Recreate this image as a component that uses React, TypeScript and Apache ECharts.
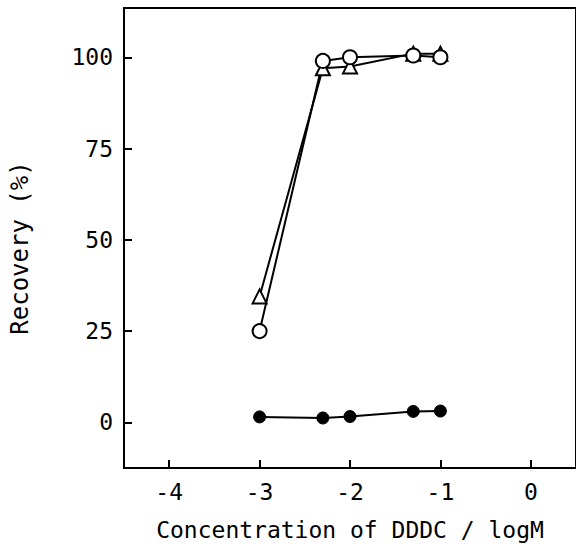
import React, { useEffect, useRef } from "react";
import * as echarts from "echarts";

const xLogConc = [-3, -2.3, -2, -1.3, -1];
const openCircle = [25, 99, 100, 100.5, 100];
const openTriangle = [34.5, 97, 97.5, 101, 101];
const filledCircle = [1.5, 1.2, 1.6, 3, 3.1];
const xTicks = [-4, -3, -2, -1, 0];
const yTicks = [0, 25, 50, 75, 100];

const font = "DejaVu Sans Mono";

export default function App() {
  const ref = useRef<HTMLDivElement>(null);
  useEffect(() => {
    if (!ref.current) return;
    const chart = echarts.init(ref.current, null, { renderer: "svg" });
    const pair = (ys: number[]) => xLogConc.map((x, i) => [x, ys[i]]);
    chart.setOption({
      animation: false,
      backgroundColor: "#ffffff",
      grid: {
        left: 124,
        right: 0,
        top: 8,
        bottom: 79,
        show: true,
        borderColor: "#000",
        borderWidth: 2,
      },
      xAxis: {
        type: "value",
        min: -4.5,
        max: 0.5,
        splitLine: { show: false },
        axisLine: { show: true, onZero: false, lineStyle: { color: "#000", width: 2 } },
        axisTick: { show: true, inside: true, length: 8, lineStyle: { color: "#000", width: 2 }, customValues: xTicks },
        axisLabel: { color: "#000", fontSize: 23, fontWeight: 500, fontFamily: font, margin: 12, customValues: xTicks },
        name: "Concentration of DDDC / logM",
        nameLocation: "middle",
        nameGap: 50,
        nameTextStyle: { color: "#000", fontSize: 23, fontWeight: 500, fontFamily: font },
      },
      yAxis: {
        type: "value",
        min: -12.5,
        max: 113.5,
        splitLine: { show: false },
        axisLine: { show: true, onZero: false, lineStyle: { color: "#000", width: 2 } },
        axisTick: { show: true, inside: true, length: 8, lineStyle: { color: "#000", width: 2 }, customValues: yTicks },
        axisLabel: { color: "#000", fontSize: 23, fontWeight: 500, fontFamily: font, margin: 11, customValues: yTicks },
        name: "Recovery (%)",
        nameLocation: "middle",
        nameGap: 92,
        nameTextStyle: { color: "#000", fontSize: 24, fontWeight: 500, fontFamily: font, padding: [0, 20, 0, 0] },
      },
      series: [
        {
          type: "line",
          data: pair(filledCircle),
          symbol: "circle",
          symbolSize: 12,
          lineStyle: { color: "#000", width: 2 },
          itemStyle: { color: "#000", borderColor: "#000", borderWidth: 1 },
        },
        {
          type: "line",
          data: pair(openTriangle),
          symbol: "triangle",
          symbolSize: 14,
          lineStyle: { color: "#000", width: 2 },
          itemStyle: { color: "#fff", borderColor: "#000", borderWidth: 2 },
        },
        {
          type: "line",
          data: pair(openCircle),
          symbol: "circle",
          symbolSize: 14,
          lineStyle: { color: "#000", width: 2 },
          itemStyle: { color: "#fff", borderColor: "#000", borderWidth: 2 },
        },
      ],
    });
    return () => chart.dispose();
  }, []);
  return (
    <div
      ref={ref}
      style={{ position: "absolute", left: 0, top: 0, width: 576, height: 547 }}
    />
  );
}
